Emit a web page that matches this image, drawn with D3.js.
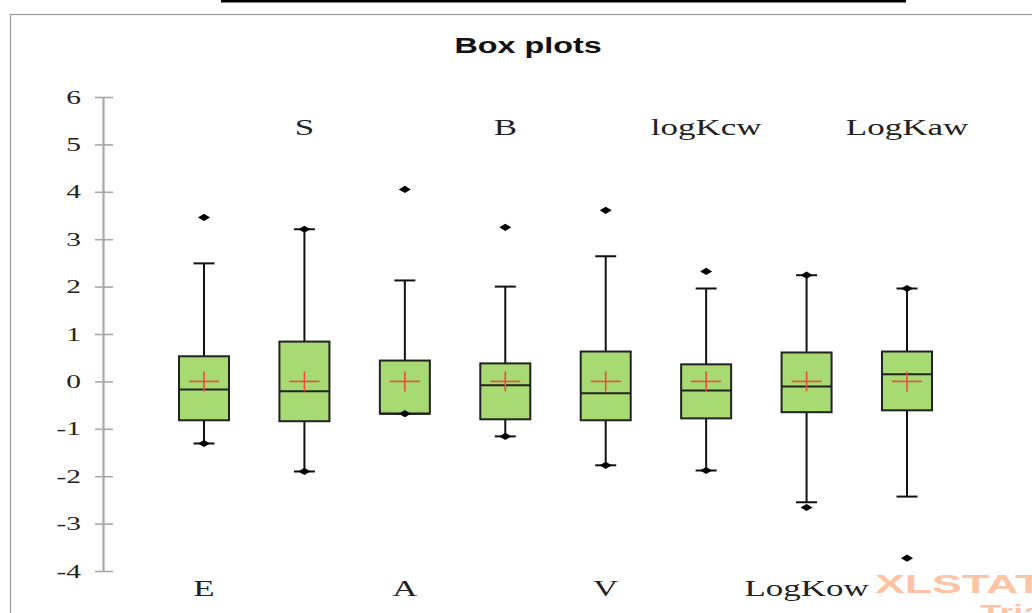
<!DOCTYPE html>
<html>
<head>
<meta charset="utf-8">
<script src="https://cdn.jsdelivr.net/npm/d3@7"></script>
<style>
  html, body { margin: 0; padding: 0; background: #fff; }
  svg { display: block; }
</style>
</head>
<body>
<svg id="chart" width="1032" height="613"></svg>
<script>
// Variables and their box-plot statistics
const categories = ["E", "S", "A", "B", "V", "logKcw", "LogKow", "LogKaw"];
const minValues     = [-1.31, -1.90, -0.68, -1.16, -1.77, -1.88, -2.66, -3.73];
const lowerWhiskers = [-1.31, -1.90, -0.68, -1.16, -1.77, -1.88, -2.55, -2.43];
const q1Values      = [-0.82, -0.84, -0.68, -0.80, -0.82, -0.78, -0.65, -0.61];
const medianValues  = [-0.17, -0.21, -0.68, -0.08, -0.25, -0.19, -0.11,  0.15];
const q3Values      = [ 0.53,  0.84,  0.44,  0.38,  0.63,  0.36,  0.61,  0.63];
const upperWhiskers = [ 2.49,  3.21,  2.13,  2.00,  2.64,  1.96,  2.24,  1.96];
const maxValues     = [ 3.46,  3.21,  4.05,  3.25,  3.61,  2.32,  2.24,  1.96];
const meanValues    = [ 0, 0, 0, 0, 0, 0, 0, 0];
const yTicks = [-4, -3, -2, -1, 0, 1, 2, 3, 4, 5, 6];

const rows = categories.map((c, i) => ({
  name: c, min: minValues[i], lo: lowerWhiskers[i], q1: q1Values[i],
  med: medianValues[i], q3: q3Values[i], hi: upperWhiskers[i],
  max: maxValues[i], mean: meanValues[i], top: i % 2 === 1
}));

const svg = d3.select("#chart");
const SX = 1.47; // horizontal stretch applied to text

// Outer frame and top rule
svg.append("rect").attr("x", 10.5).attr("y", 14.5).attr("width", 1100).attr("height", 700)
  .attr("fill", "#fff").attr("stroke", "#9a9a9a").attr("stroke-width", 1.2);
svg.append("rect").attr("x", 221).attr("y", 0).attr("width", 685).attr("height", 2.5).attr("fill", "#000");

// Title
svg.append("text")
  .attr("transform", `translate(528,53) scale(${SX},1)`)
  .attr("text-anchor", "middle")
  .attr("font-family", "Liberation Sans, Arial, sans-serif")
  .attr("font-weight", "bold").attr("font-size", 22).attr("fill", "#111")
  .text("Box plots");

const y = d3.scaleLinear().domain([-4, 6]).range([571, 97]);
const x = d3.scalePoint().domain(categories).range([204, 907]);

// Y axis
const axisX = 103;
const axis = svg.append("g").attr("transform", `translate(${axisX},0)`)
  .call(d3.axisLeft(y).tickValues(yTicks).tickSize(0).tickFormat(""));
axis.select(".domain").attr("stroke", "#a8a8a8").attr("stroke-width", 2.2);
axis.selectAll(".tick line").attr("x1", -8).attr("x2", 10)
  .attr("stroke", "#a8a8a8").attr("stroke-width", 1.6);
axis.selectAll(".tick text").remove();

svg.append("g").selectAll("text").data(yTicks).join("text")
  .attr("transform", d => `translate(81,${y(d) + 6.5}) scale(1.55,1)`)
  .attr("text-anchor", "end")
  .attr("font-family", "Liberation Serif, Times New Roman, serif")
  .attr("font-size", 19).attr("fill", "#222")
  .text(d => d);

const boxW = 50, capW = 21;
const g = svg.append("g").selectAll("g").data(rows).join("g")
  .attr("transform", d => `translate(${x(d.name)},0)`);

// Whiskers
g.append("line").attr("x1", 0).attr("x2", 0)
  .attr("y1", d => y(d.hi)).attr("y2", d => y(d.q3))
  .attr("stroke", "#111").attr("stroke-width", 2);
g.append("line").attr("x1", 0).attr("x2", 0)
  .attr("y1", d => y(d.q1)).attr("y2", d => y(d.lo))
  .attr("stroke", "#111").attr("stroke-width", 2);
g.append("line").attr("x1", -capW / 2).attr("x2", capW / 2)
  .attr("y1", d => y(d.hi)).attr("y2", d => y(d.hi))
  .attr("stroke", "#111").attr("stroke-width", 2);
g.append("line").attr("x1", -capW / 2).attr("x2", capW / 2)
  .attr("y1", d => y(d.lo)).attr("y2", d => y(d.lo))
  .attr("stroke", "#111").attr("stroke-width", 2);

// Boxes
g.append("rect").attr("x", -boxW / 2).attr("width", boxW)
  .attr("y", d => y(d.q3)).attr("height", d => y(d.q1) - y(d.q3))
  .attr("fill", "#a8da74").attr("stroke", "#222").attr("stroke-width", 2);
g.append("line").attr("x1", -boxW / 2).attr("x2", boxW / 2)
  .attr("y1", d => y(d.med)).attr("y2", d => y(d.med))
  .attr("stroke", "#222").attr("stroke-width", 2);

// Means
g.append("line").attr("x1", -15).attr("x2", 15)
  .attr("y1", d => y(d.mean)).attr("y2", d => y(d.mean))
  .attr("stroke", "#f04a3a").attr("stroke-width", 1.6);
g.append("line").attr("x1", 0).attr("x2", 0)
  .attr("y1", d => y(d.mean) - 10).attr("y2", d => y(d.mean) + 10)
  .attr("stroke", "#f04a3a").attr("stroke-width", 1.6);

// Minimum and maximum points
const diamond = "M-6,0L0,-3.6L6,0L0,3.6Z";
g.append("path").attr("d", diamond).attr("fill", "#000")
  .attr("transform", d => `translate(0,${y(d.max)})`);
g.append("path").attr("d", diamond).attr("fill", "#000")
  .attr("transform", d => `translate(0,${y(d.min)})`);

// Variable names, alternating below and above
g.append("text")
  .attr("transform", d => `translate(0,${d.top ? 135 : 596}) scale(1.52,1)`)
  .attr("text-anchor", "middle")
  .attr("font-family", "Liberation Serif, Times New Roman, serif")
  .attr("font-size", 23).attr("fill", "#222")
  .text(d => d.name);

// Trial mark
svg.append("text")
  .attr("transform", `translate(875,593) scale(1.72,1)`)
  .attr("font-family", "Liberation Sans, Arial, sans-serif")
  .attr("font-weight", "bold").attr("font-size", 26).attr("fill", "#ffc3a6")
  .text("XLSTAT");
svg.append("text")
  .attr("transform", `translate(980,620) scale(1.6,1)`)
  .attr("font-family", "Liberation Sans, Arial, sans-serif")
  .attr("font-weight", "bold").attr("font-size", 22).attr("fill", "#ffc3a6")
  .text("Trial");
</script>
</body>
</html>
